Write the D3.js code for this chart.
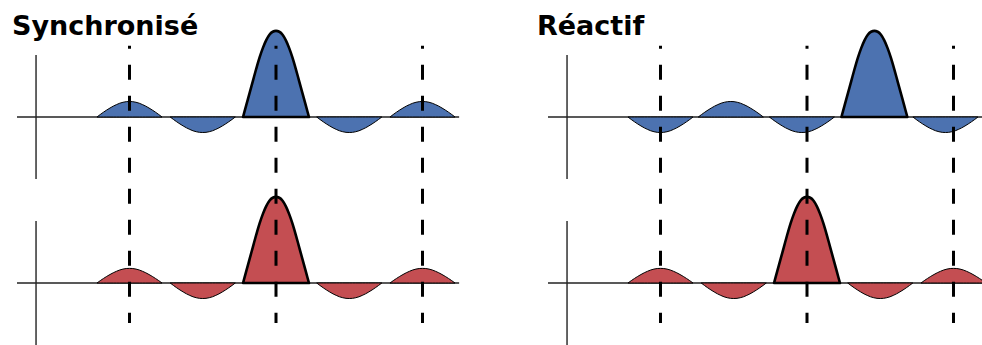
<!DOCTYPE html>
<html lang="fr">
<head>
<meta charset="UTF-8">
<title>Synchronisé / Réactif</title>
<script src="https://cdn.jsdelivr.net/npm/d3@7"></script>
<style>
    html, body {
        margin: 0;
        padding: 0;
        background: #fff;
    }
    svg {
        display: block;
        font-family: "DejaVu Sans", sans-serif;
    }
</style>
</head>
<body>
<svg id="chart" width="982" height="345"></svg>
<script>
// position of each lobe, in symbol periods
var lobePos = [0, 1, 2, 3, 4];
var reactBluePos = [0, 0.96, 1.93, 2.92, 3.89];

// lobe heights (main lobe = 1)
var syncBlue = [0.18, -0.18, 1, -0.18, 0.18];
var syncRed = [0.17, -0.18, 1, -0.18, 0.17];
var reactBlue = [-0.18, 0.18, -0.18, 1, -0.18];
var reactRed = [0.17, -0.18, 1, -0.18, 0.17];

// sampling instants (dashed lines)
var markers = [0, 2, 4];
var titles = ["Synchronisé", "Réactif"];

// lobe outline, at |s| = 0, 0.1 ... 1 of the half width
var mainProfile = [1, 0.99, 0.955, 0.89, 0.8, 0.69, 0.56, 0.42, 0.28, 0.14, 0];
var sideProfile = [1, 0.99, 0.95, 0.89, 0.8, 0.7, 0.58, 0.45, 0.31, 0.16, 0];

var panels = [
    {title: titles[0], off: 0, tx: 12, rows: [
        {pos: lobePos, amp: syncBlue, color: "#4C72B0"},
        {pos: lobePos, amp: syncRed, color: "#C44E52"}]},
    {title: titles[1], off: 531, tx: 537, rows: [
        {pos: reactBluePos, amp: reactBlue, color: "#4C72B0"},
        {pos: lobePos, amp: reactRed, color: "#C44E52"}]}
];
var baselines = [117, 283];

var svg = d3.select("#chart");

function lobePoints(c, a) {
    var prof = a === 1 ? mainProfile : sideProfile;
    var hw = a === 1 ? 0.45 : 0.444;
    var pts = [];
    for (var i = -10; i <= 10; i++) {
        pts.push([c + i / 10 * hw, a * prof[Math.abs(i)]]);
    }
    return pts;
}

panels.forEach(function (p) {
    var g = svg.append("g");
    var x = d3.scaleLinear().domain([0, 4]).range([129.5 + p.off, 422.5 + p.off]);

    g.append("text")
        .attr("x", p.tx)
        .attr("y", 35)
        .attr("font-size", 27)
        .attr("font-weight", "bold")
        .attr("fill", "#000")
        .text(p.title);

    var ys = [];
    p.rows.forEach(function (r, ri) {
        var b = baselines[ri];
        var y = d3.scaleLinear().domain([-0.72, 0.72]).range([b + 62, b - 62]);
        ys.push(y);

        // axes
        g.append("line")
            .attr("x1", x(-1.276)).attr("x2", x(-1.276))
            .attr("y1", y(-0.72)).attr("y2", y(0.72))
            .attr("stroke", "#222").attr("stroke-width", 1.4);
        g.append("line")
            .attr("x1", x(-1.536)).attr("x2", x(4.5))
            .attr("y1", y(0)).attr("y2", y(0))
            .attr("stroke", "#222").attr("stroke-width", 1.4);

        var area = d3.area()
            .x(function (d) { return x(d[0]); })
            .y0(y(0))
            .y1(function (d) { return y(d[1]); })
            .curve(d3.curveMonotoneX);

        r.amp.forEach(function (a, i) {
            g.append("path")
                .attr("d", area(lobePoints(r.pos[i], a)))
                .attr("fill", r.color)
                .attr("stroke", "#000")
                .attr("stroke-width", a === 1 ? 2.6 : 1)
                .attr("stroke-linejoin", "round");
        });
    });

    // dashed sampling lines across both rows
    g.selectAll("line.mark")
        .data(markers)
        .enter()
        .append("line")
        .attr("class", "mark")
        .attr("x1", function (d) { return x(d); })
        .attr("x2", function (d) { return x(d); })
        .attr("y1", ys[0](0.826))
        .attr("y2", ys[1](-0.465))
        .attr("stroke", "#000")
        .attr("stroke-width", 3)
        .attr("stroke-dasharray", "15,16")
        .attr("stroke-dashoffset", 12);
});
</script>
</body>
</html>
